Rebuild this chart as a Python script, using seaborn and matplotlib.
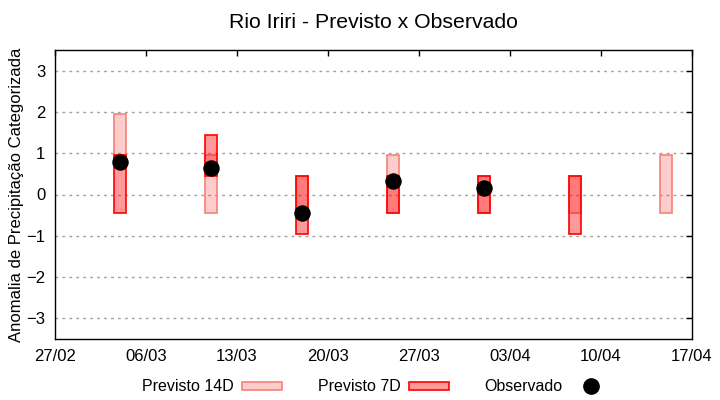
import numpy as np
import pandas as pd
import matplotlib
matplotlib.use("Agg")
import matplotlib.pyplot as plt
import matplotlib.dates as mdates
from matplotlib.patches import Patch
from matplotlib.lines import Line2D
import seaborn as sns

# Forecast weeks and category ranges
dates = ["2023-03-04", "2023-03-11", "2023-03-18", "2023-03-25",
         "2023-04-01", "2023-04-08", "2023-04-15"]
p14_low = [0.95, -0.45, -0.45, -0.45, -0.45, -0.45, -0.45]
p14_high = [1.95, 0.95, 0.45, 0.95, 0.45, 0.45, 0.95]
p7_low = [-0.45, 0.45, -0.95, -0.45, -0.45, -0.95, np.nan]
p7_high = [0.95, 1.45, 0.45, 0.45, 0.45, 0.45, np.nan]
observado = [0.78, 0.63, -0.46, 0.32, 0.15, np.nan, np.nan]

df = pd.DataFrame({
    "data": pd.to_datetime(dates),
    "p14_low": p14_low, "p14_high": p14_high,
    "p7_low": p7_low, "p7_high": p7_high,
    "obs": observado,
})

sns.set_style("white")
plt.rcParams["font.family"] = ["Liberation Sans", "DejaVu Sans"]
plt.rcParams["text.color"] = "black"
plt.rcParams["axes.labelcolor"] = "black"

fig = plt.figure(figsize=(7.2, 4.0), dpi=100)
ax = fig.add_axes([0.0764, 0.1525, 0.8847, 0.7225])

c14_face = (1, 0, 0, 0.2)
c14_edge = "#F4827A"
c7_face = (1, 0, 0, 0.4)
c7_edge = "red"

ax.bar(df["data"], df["p14_high"] - df["p14_low"], bottom=df["p14_low"],
       width=0.9, color=c14_face, edgecolor=c14_edge, linewidth=1.2, zorder=2)
ax.bar(df["data"], df["p7_high"] - df["p7_low"], bottom=df["p7_low"],
       width=0.9, color=c7_face, edgecolor=c7_edge, linewidth=1.2, zorder=3)
sns.scatterplot(data=df.dropna(subset=["obs"]), x="data", y="obs", ax=ax,
                color="black", s=120, edgecolor="black", zorder=4, legend=False)

ax.set_xlim(pd.Timestamp("2023-02-27"), pd.Timestamp("2023-04-17"))
ax.set_ylim(-3.5, 3.5)
ax.set_yticks(range(-3, 4))
ax.set_xticks(pd.date_range("2023-02-27", "2023-04-17", freq="7D"))
ax.xaxis.set_major_formatter(mdates.DateFormatter("%d/%m"))

ax.grid(axis="y", color="#A0A0A0", linestyle=(0, (2, 3)), linewidth=1)
ax.grid(axis="x", visible=False)
ax.tick_params(direction="in", length=4, width=1, top=True, right=True,
               labelsize=12, pad=7, colors="black")
for s in ax.spines.values():
    s.set_color("black")
    s.set_linewidth(1)

ax.set_xlabel("")
ax.set_ylabel("Anomalia de Precipitação Categorizada", fontsize=12)
ax.yaxis.set_label_coords(-0.048, 0.5)
fig.suptitle("Rio Iriri - Previsto x Observado", fontsize=15.3, x=0.518, y=0.968,
             color="black")

handles = [
    Patch(facecolor=c14_face, edgecolor=c14_edge, linewidth=1.2, label="Previsto 14D"),
    Patch(facecolor=c7_face, edgecolor=c7_edge, linewidth=1.2, label="Previsto 7D"),
    Line2D([], [], marker="o", color="black", linestyle="none", markersize=11,
           label="Observado"),
]
fig.legend(handles=handles, loc="center", bbox_to_anchor=(0.523, 0.033), ncol=3,
           frameon=False, markerfirst=False, fontsize=11.5, handlelength=2.5,
           handleheight=0.4, columnspacing=2.2, handletextpad=0.56,
           labelcolor="black")

fig.savefig("out.png", dpi=100)
